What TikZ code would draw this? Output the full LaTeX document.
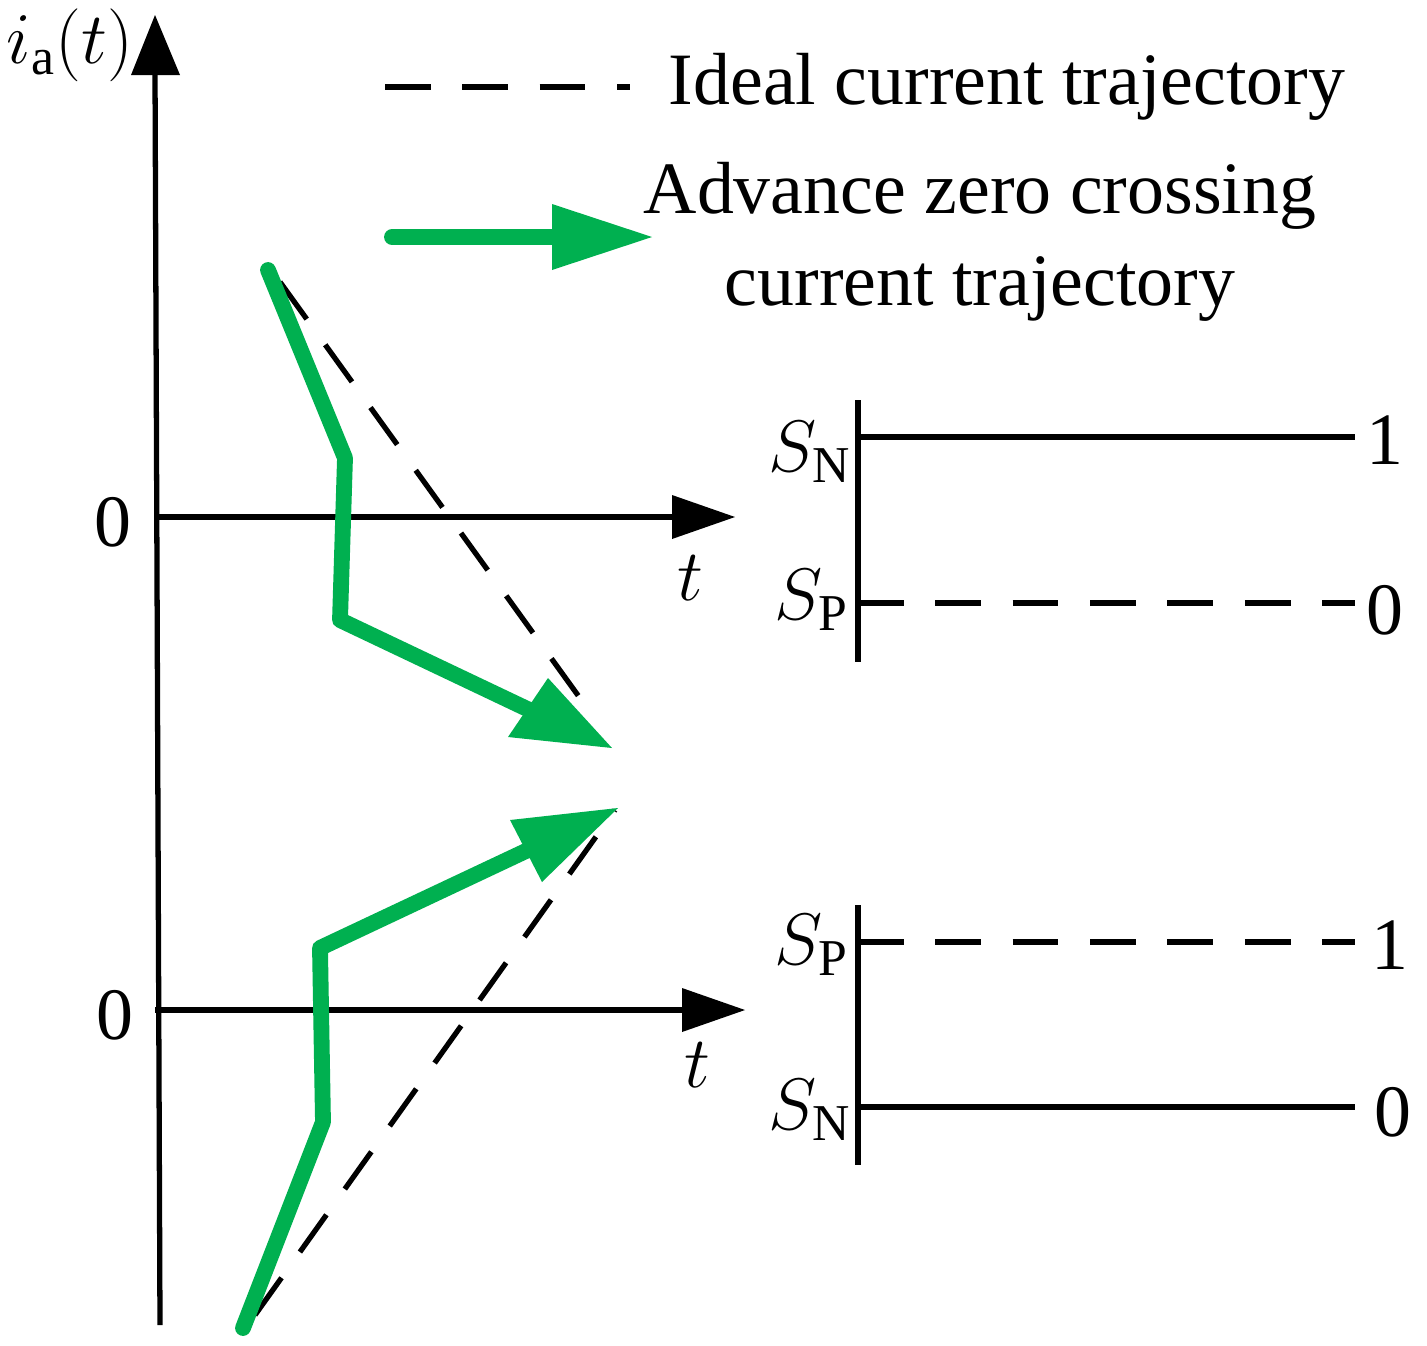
\documentclass[tikz,border=0pt]{standalone}
\usepackage{fontspec}
\setmainfont{Liberation Serif}
\begin{document}
\begin{tikzpicture}[x=0.01cm,y=-0.01cm,
  ax/.style={line width=1.5pt},
  dsh/.style={line width=1.5pt,dash pattern=on 13pt off 9pt},
  grn/.style={line width=4.5pt,draw=gr,line cap=round,line join=round},
  lbl/.style={font=\fontsize{21}{24}\selectfont,inner sep=0pt}]
\definecolor{gr}{HTML}{00B050}
\useasboundingbox (0,0) rectangle (1427,1345);
% axes
\coordinate (vb) at (160,1325); \coordinate (vt) at (155,15);
\draw[ax] (vb) -- (155,70);
\fill (vt) -- (131,75) -- (180,75) -- cycle;
\node[lbl] (ia) at (70,45) {$i_{\mathrm{a}}(t)$};
\coordinate (h1a) at (155,517); \coordinate (h1b) at (735,517);
\draw[ax] (h1a) -- (680,517);
\fill (h1b) -- (672,495) -- (672,539) -- cycle;
\node[lbl] (z1) at (113,522) {0};
\node[lbl] (t1) at (690,578) {$t$};
\coordinate (h2a) at (155,1010); \coordinate (h2b) at (745,1010);
\draw[ax] (h2a) -- (690,1010);
\fill (h2b) -- (682,988) -- (682,1032) -- cycle;
\node[lbl] (z2) at (115,1015) {0};
\node[lbl] (t2) at (697,1065) {$t$};
% legend
\coordinate (l1a) at (385,87); \coordinate (l1b) at (630,87);
\draw[dsh] (l1a) -- (l1b);
\node[lbl,anchor=west] (leg1) at (668,87) {Ideal current trajectory};
\coordinate (l2a) at (392,237); \coordinate (l2b) at (555,237);
\draw[grn,line cap=round] (l2a) -- (l2b);
\fill[gr] (652,237) -- (552,204) -- (552,270) -- cycle;
\node[lbl,align=center] (leg2) at (980,242) {Advance zero crossing\\[2pt]current trajectory};
% trajectory 1
\coordinate (a1) at (280,282); \coordinate (a2) at (590,712);
\draw[dsh] (a1) -- (a2);
\coordinate (g1) at (268,270); \coordinate (g2) at (345,458); \coordinate (g3) at (340,620); \coordinate (g4) at (540,715);
\draw[grn] (g1) -- (g2) -- (g3) -- (g4);
\fill[gr] (612,748) -- (508,737) -- (548,678) -- cycle;
% trajectory 2
\coordinate (b1) at (255,1315); \coordinate (b2) at (615,810);
\draw[dsh] (b1) -- (b2);
\coordinate (k1) at (243,1328); \coordinate (k2) at (323,1122); \coordinate (k3) at (320,948); \coordinate (k4) at (545,842);
\draw[grn] (k1) -- (k2) -- (k3) -- (k4);
\fill[gr] (618,808) -- (510,820) -- (542,882) -- cycle;
% switch box 1
\draw[ax] (858,400) -- (858,662);
\node[lbl] (sn1) at (810,452) {$S_{\mathrm{N}}$};
\draw[ax] (858,437) -- (1355,437);
\node[lbl] (o1) at (1385,440) {1};
\node[lbl] (sp1) at (812,600) {$S_{\mathrm{P}}$};
\draw[dsh] (858,603) -- (1355,603);
\node[lbl] (o2) at (1385,610) {0};
% switch box 2
\draw[ax] (858,905) -- (858,1165);
\node[lbl] (sp2) at (812,945) {$S_{\mathrm{P}}$};
\draw[dsh] (858,942) -- (1355,942);
\node[lbl] (o3) at (1390,945) {1};
\node[lbl] (sn2) at (810,1110) {$S_{\mathrm{N}}$};
\draw[ax] (858,1107) -- (1355,1107);
\node[lbl] (o4) at (1393,1112) {0};
\end{tikzpicture}
\end{document}
